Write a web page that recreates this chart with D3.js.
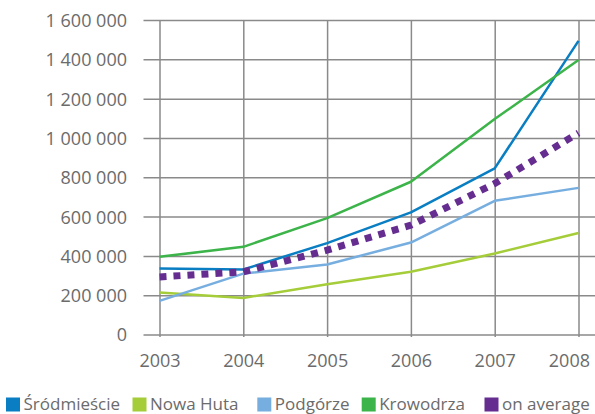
<!DOCTYPE html>
<html>
<head>
<meta charset="utf-8">
<script src="https://cdn.jsdelivr.net/npm/d3@7"></script>
<style>
  html, body { margin: 0; padding: 0; background: #fff; }
  svg { display: block; }
  text { font-family: "Open Sans", "DejaVu Sans", sans-serif; fill: #6b6b6b; }
</style>
</head>
<body>
<svg id="chart" width="595" height="414"></svg>
<script>
// Years on the horizontal axis
const years = [2003, 2004, 2005, 2006, 2007, 2008];

// Values per district (PLN)
const srodmiescie = [336000, 331000, 465000, 621000, 845000, 1494000];
const nowaHuta    = [214000, 186000, 256000, 319000, 412000, 516000];
const podgorze    = [171000, 310000, 356000, 468000, 680000, 746000];
const krowodrza   = [395000, 446000, 592000, 777000, 1096000, 1396000];
const onAverage   = [293000, 319000, 429000, 556000, 768000, 1025000];

const seriesNames = ["Śródmieście", "Nowa Huta", "Podgórze", "Krowodrza", "on average"];

// Y-axis ticks
const yTicks = [0, 200000, 400000, 600000, 800000, 1000000, 1200000, 1400000, 1600000];

// Styling
const colors = ["#0a7ec2", "#a5cd39", "#77aee0", "#3cb44a", "#662d91"];
const legendX = [6, 132.5, 257.3, 361.7, 484.5];

const series = [srodmiescie, nowaHuta, podgorze, krowodrza, onAverage].map((vals, i) => ({
  name: seriesNames[i],
  color: colors[i],
  dotted: i === 4,
  points: years.map((y, j) => ({ year: y, value: vals[j] }))
}));

const W = 595, H = 414;
const plot = { left: 159.5, right: 578.5, top: 20, bottom: 334.5 };

const svg = d3.select("#chart");

const x = d3.scaleLinear().domain([2003, 2008]).range([plot.left, plot.right]);
const y = d3.scaleLinear().domain([0, 1600000]).range([plot.bottom, plot.top]);

const fmt = v => d3.format(",")(v).replace(/,/g, " ");

// Horizontal gridlines (with left tick stubs), running to the right edge
const yAxis = d3.axisLeft(y)
  .tickValues(yTicks)
  .tickFormat(fmt)
  .tickSize(-(W - plot.left))
  .tickPadding(0);

const gy = svg.append("g")
  .attr("transform", `translate(${plot.left},0)`)
  .call(yAxis);
gy.select(".domain").remove();
gy.selectAll(".tick line")
  .attr("x1", -16)
  .attr("stroke", "#8a8a8a")
  .attr("stroke-width", 1.5);
gy.selectAll(".tick text")
  .attr("x", -32.5)
  .attr("dy", "0.36em")
  .style("font-size", "18px")
  .style("fill", "#6b6b6b")
  .style("font-family", "'Open Sans', sans-serif");

// Vertical gridlines at each year
const xAxis = d3.axisBottom(x)
  .tickValues(years)
  .tickFormat(d3.format("d"))
  .tickSize(-(plot.bottom - plot.top))
  .tickPadding(0);

const gx = svg.append("g")
  .attr("transform", `translate(0,${plot.bottom})`)
  .call(xAxis);
gx.select(".domain").remove();
gx.selectAll(".tick line")
  .attr("y1", 2.5)
  .attr("stroke", "#8a8a8a")
  .attr("stroke-width", 1.5);
gx.selectAll(".tick text")
  .attr("y", 32.5)
  .attr("dy", 0)
  .style("font-size", "18px")
  .style("fill", "#6b6b6b")
  .style("font-family", "'Open Sans', sans-serif")
  .each(function () {
    // keep the last label inside the frame
    const bb = this.getBBox();
    const tx = d3.select(this.parentNode).attr("transform");
    const cx = +tx.match(/translate\(([-\d.]+)/)[1];
    const over = cx + bb.x + bb.width - (W - 5);
    if (over > 0) d3.select(this).attr("x", -over);
  });

// Series lines
const line = d3.line()
  .x(d => x(d.year))
  .y(d => y(d.value));

svg.append("g")
  .selectAll("path")
  .data(series)
  .join("path")
  .attr("d", d => line(d.points))
  .attr("fill", "none")
  .attr("stroke", d => d.color)
  .attr("stroke-width", d => d.dotted ? 7 : 2.5)
  .attr("stroke-dasharray", d => d.dotted ? "7 7" : null)
  .attr("stroke-linejoin", "round")
  .attr("stroke-linecap", "butt");

// Legend
const legend = svg.append("g")
  .selectAll("g")
  .data(series)
  .join("g")
  .attr("transform", (d, i) => `translate(${legendX[i]},397.5)`);

legend.append("rect")
  .attr("width", 14)
  .attr("height", 14)
  .attr("fill", d => d.color);

legend.append("text")
  .attr("x", 17.5)
  .attr("y", 12.5)
  .style("font-size", "17px")
  .text(d => d.name);
</script>
</body>
</html>
